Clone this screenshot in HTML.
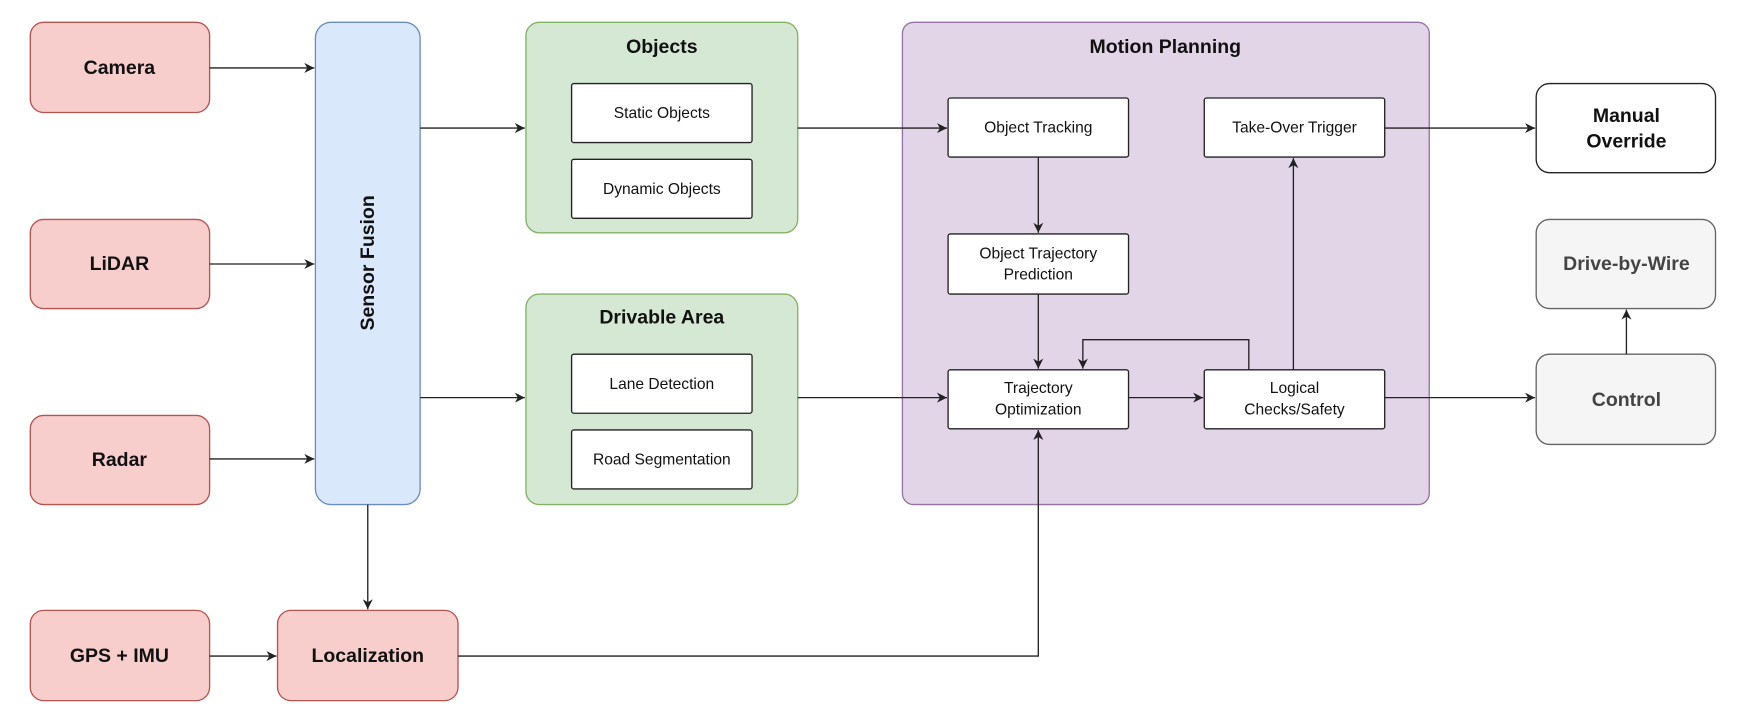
<!DOCTYPE html>
<html><head><meta charset="utf-8"><style>
html,body{margin:0;padding:0;background:#fff;}
svg{display:block;}
text{font-family:"Liberation Sans",Arial,sans-serif;}
.b{font-weight:bold;font-size:17.5px;fill:#111;}
.s{font-size:14px;fill:#111;}
</style></head><body>
<svg width="1738" height="724" viewBox="0 0 1560 650" xmlns="http://www.w3.org/2000/svg">
<defs><marker id="a" viewBox="0 0 10 10" refX="10" refY="5" markerWidth="9" markerHeight="9" markerUnits="userSpaceOnUse" orient="auto"><path d="M0,0 L10,5 L0,10 L3,5 Z" fill="#222"/></marker></defs>
<g stroke-width="1.2">
<rect x="27" y="20" width="161" height="81" rx="12" fill="#f8cecc" stroke="#b85450"/>
<rect x="27" y="197" width="161" height="80" rx="12" fill="#f8cecc" stroke="#b85450"/>
<rect x="27" y="373" width="161" height="80" rx="12" fill="#f8cecc" stroke="#b85450"/>
<rect x="27" y="548" width="161" height="81" rx="12" fill="#f8cecc" stroke="#b85450"/>
<rect x="249" y="548" width="162" height="81" rx="12" fill="#f8cecc" stroke="#b85450"/>
<rect x="283" y="20" width="94" height="433" rx="14" fill="#dae8fc" stroke="#6c8ebf"/>
<rect x="472" y="20" width="244" height="189" rx="12" fill="#d5e8d4" stroke="#82b366"/>
<rect x="472" y="264" width="244" height="189" rx="12" fill="#d5e8d4" stroke="#82b366"/>
<rect x="810" y="20" width="473" height="433" rx="10" fill="#e1d5e7" stroke="#9673a6"/>
<rect x="1379" y="75" width="161" height="80" rx="12" fill="#fff" stroke="#222"/>
<rect x="1379" y="197" width="161" height="80" rx="12" fill="#f5f5f5" stroke="#666"/>
<rect x="1379" y="318" width="161" height="81" rx="12" fill="#f5f5f5" stroke="#666"/>
</g>
<g fill="#fff" stroke="#222" stroke-width="1.2">
<rect x="513" y="75" width="162" height="53" rx="2"/>
<rect x="513" y="143" width="162" height="53" rx="2"/>
<rect x="513" y="318" width="162" height="53" rx="2"/>
<rect x="513" y="386" width="162" height="53" rx="2"/>
<rect x="851" y="88" width="162" height="53" rx="2"/>
<rect x="1081" y="88" width="162" height="53" rx="2"/>
<rect x="851" y="210" width="162" height="54" rx="2"/>
<rect x="851" y="332" width="162" height="53" rx="2"/>
<rect x="1081" y="332" width="162" height="53" rx="2"/>
</g>
<g fill="none" stroke="#222" stroke-width="1.2" marker-end="url(#a)">
<path d="M188,61 H282"/>
<path d="M188,237 H282"/>
<path d="M188,412 H282"/>
<path d="M377,115 H471"/>
<path d="M377,357 H471"/>
<path d="M330,453 V547"/>
<path d="M188,589 H248"/>
<path d="M411,589 H932 V386"/>
<path d="M716,115 H850"/>
<path d="M716,357 H850"/>
<path d="M932,141 V209"/>
<path d="M932,264 V331"/>
<path d="M1013,357 H1080"/>
<path d="M1121,332 V305 H972 V331"/>
<path d="M1161,332 V142"/>
<path d="M1243,115 H1378"/>
<path d="M1243,357 H1378"/>
<path d="M1460,318 V278"/>
</g>
<g text-anchor="middle" dominant-baseline="central">
<text class="b" x="107" y="61">Camera</text>
<text class="b" x="107" y="237">LiDAR</text>
<text class="b" x="107" y="413">Radar</text>
<text class="b" x="107" y="589">GPS + IMU</text>
<text class="b" x="330" y="589">Localization</text>
<text class="b" x="330" y="236" transform="rotate(-90 330 236)">Sensor Fusion</text>
<text class="b" x="594" y="42">Objects</text>
<text class="b" x="594" y="285">Drivable Area</text>
<text class="b" x="1046" y="42">Motion Planning</text>
<text class="s" x="594" y="102">Static Objects</text>
<text class="s" x="594" y="170">Dynamic Objects</text>
<text class="s" x="594" y="345">Lane Detection</text>
<text class="s" x="594" y="413">Road Segmentation</text>
<text class="s" x="932" y="115">Object Tracking</text>
<text class="s" x="1162" y="115">Take-Over Trigger</text>
<text class="s" x="932" y="228">Object Trajectory</text>
<text class="s" x="932" y="247">Prediction</text>
<text class="s" x="932" y="349">Trajectory</text>
<text class="s" x="932" y="368">Optimization</text>
<text class="s" x="1162" y="349">Logical</text>
<text class="s" x="1162" y="368">Checks/Safety</text>
<text class="b" x="1460" y="104">Manual</text>
<text class="b" x="1460" y="127">Override</text>
<text class="b" x="1460" y="237" style="fill:#444">Drive-by-Wire</text>
<text class="b" x="1460" y="359" style="fill:#444">Control</text>
</g>
</svg>
</body></html>
